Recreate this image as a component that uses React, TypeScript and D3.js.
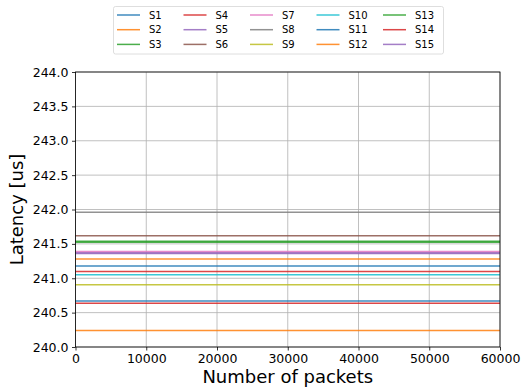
import React, { useEffect, useRef } from "react";
import * as d3 from "d3";

// series names and their (constant) latency in us
const seriesNames = ["S1", "S2", "S3", "S4", "S5", "S6", "S7", "S8", "S9", "S10", "S11", "S12", "S13", "S14", "S15"];
const latency = [241.18, 241.28, 241.54, 241.1, 241.37, 241.62, 241.39, 241.96, 240.905, 241.05, 240.67, 240.24, 241.525, 240.635, 241.36];
const packets = [0, 60000];
const xTicks = [0, 10000, 20000, 30000, 40000, 50000, 60000];
const yTicks = [240.0, 240.5, 241.0, 241.5, 242.0, 242.5, 243.0, 243.5, 244.0];

const W = 521;
const H = 389;
const margin = { top: 72, right: 21, bottom: 42, left: 75.5 };

const App = () => {
  const svgRef = useRef<SVGSVGElement>(null);

  useEffect(() => {
    const svgEl = d3.select(svgRef.current);
    svgEl.selectAll("*").remove();
    const font = "DejaVu Sans";

    const x = d3.scaleLinear().domain([0, 60000]).range([margin.left, W - margin.right]);
    const y = d3.scaleLinear().domain([240, 244]).range([H - margin.bottom, margin.top]);
    const color = d3.scaleOrdinal<string, string>().domain(seriesNames).range(d3.schemeCategory10);

    // grid
    const grid = svgEl.append("g").attr("stroke", "#b0b0b0").attr("stroke-width", 0.8);
    xTicks.forEach((t) => {
      grid.append("line").attr("x1", x(t)).attr("x2", x(t)).attr("y1", y(240)).attr("y2", y(244));
    });
    yTicks.forEach((t) => {
      grid.append("line").attr("y1", y(t)).attr("y2", y(t)).attr("x1", x(0)).attr("x2", x(60000));
    });

    // one flat line per series
    seriesNames.forEach((name, i) => {
      svgEl
        .append("path")
        .datum(packets)
        .attr("d", d3.line<number>().x((d) => x(d)).y(() => y(latency[i])))
        .attr("fill", "none")
        .attr("stroke", color(name))
        .attr("stroke-opacity", 0.85)
        .attr("stroke-width", 1.5);
    });

    // axes
    const xAxis = d3.axisBottom(x).tickValues(xTicks).tickFormat(d3.format("d")).tickSize(3.5).tickPadding(3.5);
    const xg = svgEl.append("g").attr("transform", `translate(0,${y(240)})`).call(xAxis);
    const yAxis = d3.axisLeft(y).tickValues(yTicks).tickFormat(d3.format(".1f")).tickSize(3.5).tickPadding(3.5);
    const yg = svgEl.append("g").attr("transform", `translate(${x(0)},0)`).call(yAxis);
    [xg, yg].forEach((g) => {
      g.select(".domain").remove();
      g.selectAll("line").attr("stroke", "#000").attr("stroke-width", 0.8);
      g.selectAll("text").attr("font-family", font).attr("font-size", 12.5).attr("fill", "#000");
    });

    // frame
    svgEl
      .append("rect")
      .attr("x", x(0))
      .attr("y", y(244))
      .attr("width", x(60000) - x(0))
      .attr("height", y(240) - y(244))
      .attr("fill", "none")
      .attr("stroke", "#000")
      .attr("stroke-width", 0.8);

    // labels
    svgEl
      .append("text")
      .attr("x", (x(0) + x(60000)) / 2)
      .attr("y", 383)
      .attr("text-anchor", "middle")
      .attr("font-family", font)
      .attr("font-size", 18)
      .text("Number of packets");
    svgEl
      .append("text")
      .attr("transform", `translate(23,${(y(240) + y(244)) / 2}) rotate(-90)`)
      .attr("text-anchor", "middle")
      .attr("font-family", font)
      .attr("font-size", 18)
      .text("Latency [us]");

    // legend
    const lg = svgEl.append("g");
    lg.append("rect")
      .attr("x", 113.5)
      .attr("y", 6.5)
      .attr("width", 330)
      .attr("height", 47.5)
      .attr("rx", 2)
      .attr("fill", "#fff")
      .attr("stroke", "#d6d6d6")
      .attr("stroke-width", 0.8);
    seriesNames.forEach((name, i) => {
      const col = Math.floor(i / 3);
      const row = i % 3;
      const lx = 117 + col * 66.5;
      const ly = 15 + row * 14.7;
      lg.append("line")
        .attr("x1", lx)
        .attr("x2", lx + 23)
        .attr("y1", ly)
        .attr("y2", ly)
        .attr("stroke", color(name))
        .attr("stroke-opacity", 0.85)
        .attr("stroke-width", 1.5);
      lg.append("text")
        .attr("x", lx + 32)
        .attr("y", ly + 3.6)
        .attr("font-family", font)
        .attr("font-size", 10)
        .text(name);
    });
  }, []);

  return (
    <svg
      ref={svgRef}
      width={W}
      height={H}
      style={{ position: "absolute", left: 0, top: 0, background: "#fff" }}
    />
  );
};

export default App;
